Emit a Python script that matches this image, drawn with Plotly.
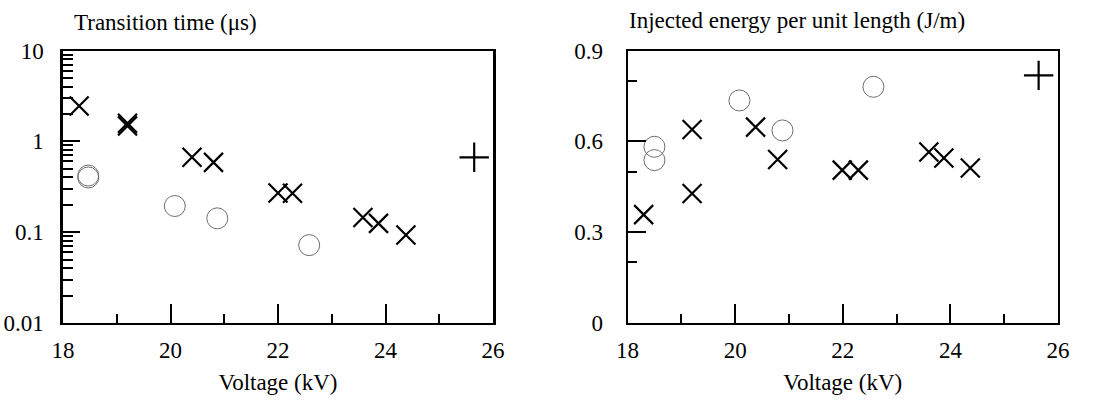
import plotly.graph_objects as go

# ---------------- data ----------------
# Left panel: transition time (µs) vs voltage (kV)
volt_cross_t = [18.3, 19.2, 19.2, 20.4, 20.8, 22.0, 22.27, 23.58, 23.87, 24.38]
time_cross = [2.45, 1.58, 1.48, 0.667, 0.587, 0.27, 0.268, 0.145, 0.125, 0.093]
volt_circle_t = [18.47, 18.47, 20.08, 20.87, 22.58]
time_circle = [0.42, 0.40, 0.194, 0.142, 0.072]
volt_plus_t = [25.65]
time_plus = [0.667]

# Right panel: injected energy per unit length (J/m) vs voltage (kV)
volt_cross_e = [18.3, 19.2, 19.2, 20.38, 20.79, 21.99, 22.29, 23.6, 23.88, 24.37]
energy_cross = [0.358, 0.639, 0.428, 0.647, 0.540, 0.505, 0.505, 0.565, 0.545, 0.512]
volt_circle_e = [18.5, 18.5, 20.08, 20.88, 22.57]
energy_circle = [0.582, 0.538, 0.735, 0.636, 0.780]
volt_plus_e = [25.64]
energy_plus = [0.818]

# ticks
x_tickvals = [18, 20, 22, 24, 26]
x_ticktext = ["18", "20", "22", "24", "26"]
x_minor = [19, 21, 23, 25]
t_tickvals = [0.01, 0.1, 1, 10]
t_ticktext = ["0.01", "0.1", "1", "10"]
t_minor = [0.02, 0.03, 0.04, 0.05, 0.06, 0.07, 0.08, 0.09,
           0.2, 0.3, 0.4, 0.5, 0.6, 0.7, 0.8, 0.9,
           2, 3, 4, 5, 6, 7, 8, 9]
e_tickvals = [0, 0.3, 0.6, 0.9]
e_ticktext = ["0", "0.3", "0.6", "0.9"]
e_minor = [0.2, 0.5, 0.8]

# ---------------- figure ----------------
FONT = "Liberation Serif"
W, H = 1107, 400

fig = go.Figure()

cross_m = dict(symbol="x-thin-open", size=19, color="black", line=dict(color="black", width=2.2))
circle_m = dict(symbol="circle-open", size=21, color="#6e6e6e", line=dict(color="#6e6e6e", width=1))
plus_m = dict(symbol="cross-thin-open", size=21, color="black", line=dict(color="black", width=2.2))

fig.add_trace(go.Scatter(x=volt_cross_t, y=time_cross, mode="markers", marker=cross_m, xaxis="x", yaxis="y"))
fig.add_trace(go.Scatter(x=volt_circle_t, y=time_circle, mode="markers", marker=circle_m, xaxis="x", yaxis="y"))
fig.add_trace(go.Scatter(x=volt_plus_t, y=time_plus, mode="markers", marker=plus_m, xaxis="x", yaxis="y"))

fig.add_trace(go.Scatter(x=volt_cross_e, y=energy_cross, mode="markers", marker=cross_m, xaxis="x2", yaxis="y2"))
fig.add_trace(go.Scatter(x=volt_circle_e, y=energy_circle, mode="markers", marker=circle_m, xaxis="x2", yaxis="y2"))
fig.add_trace(go.Scatter(x=volt_plus_e, y=energy_plus, mode="markers", marker=plus_m, xaxis="x2", yaxis="y2"))

ydom = [(H - 323) / H, (H - 50.5) / H]
tickfont = dict(family=FONT, size=23, color="black")


def xaxis(domain, anchor):
    return dict(
        domain=domain, anchor=anchor, range=[18, 26], automargin=False,
        showline=True, linecolor="black", linewidth=2, mirror=True,
        showgrid=False, zeroline=False,
        tickmode="array", tickvals=x_tickvals, ticktext=x_ticktext,
        ticks="inside", ticklen=19, tickwidth=2, tickcolor="black",
        minor=dict(tickmode="array", tickvals=x_minor, ticks="inside", ticklen=9,
                   tickwidth=2, tickcolor="black", showgrid=False),
        tickfont=tickfont, ticklabelstandoff=5,
        title=dict(text="Voltage (kV)", font=dict(family=FONT, size=23, color="black"), standoff=12),
    )


fig.update_layout(
    template="none",
    width=W, height=H,
    margin=dict(l=0, r=0, t=0, b=0, autoexpand=False),
    paper_bgcolor="white", plot_bgcolor="white",
    showlegend=False,
    xaxis=xaxis([63 / W, 493 / W], "y"),
    xaxis2=xaxis([627.5 / W, 1058 / W], "y2"),
    yaxis=dict(
        domain=ydom, anchor="x", type="log", range=[-2, 1], automargin=False,
        showline=True, linecolor="black", linewidth=2.5, mirror=True,
        showgrid=False, zeroline=False,
        tickmode="array", tickvals=t_tickvals, ticktext=t_ticktext,
        ticks="inside", ticklen=17, tickwidth=2, tickcolor="black",
        minor=dict(tickmode="array", tickvals=t_minor, ticks="inside", ticklen=10,
                   tickwidth=2, tickcolor="black", showgrid=False),
        tickfont=tickfont, ticklabelstandoff=12,
    ),
    yaxis2=dict(
        domain=ydom, anchor="x2", range=[0, 0.9], automargin=False,
        showline=True, linecolor="black", linewidth=2, mirror=True,
        showgrid=False, zeroline=False,
        tickmode="array", tickvals=e_tickvals, ticktext=e_ticktext,
        ticks="inside", ticklen=18, tickwidth=2, tickcolor="black",
        minor=dict(tickmode="array", tickvals=e_minor, ticks="inside", ticklen=9,
                   tickwidth=2, tickcolor="black", showgrid=False),
        tickfont=tickfont, ticklabelstandoff=18,
    ),
    annotations=[
        dict(text="Transition time (μs)", xref="paper", yref="paper",
             x=72 / W, y=1 - 22 / H, xanchor="left", yanchor="middle", showarrow=False,
             font=dict(family=FONT, size=23, color="black")),
        dict(text="Injected energy per unit length (J/m)", xref="paper", yref="paper",
             x=627 / W, y=1 - 20 / H, xanchor="left", yanchor="middle", showarrow=False,
             font=dict(family=FONT, size=23, color="black")),
    ],
)

fig.write_html("out.html", config={"displayModeBar": False})
